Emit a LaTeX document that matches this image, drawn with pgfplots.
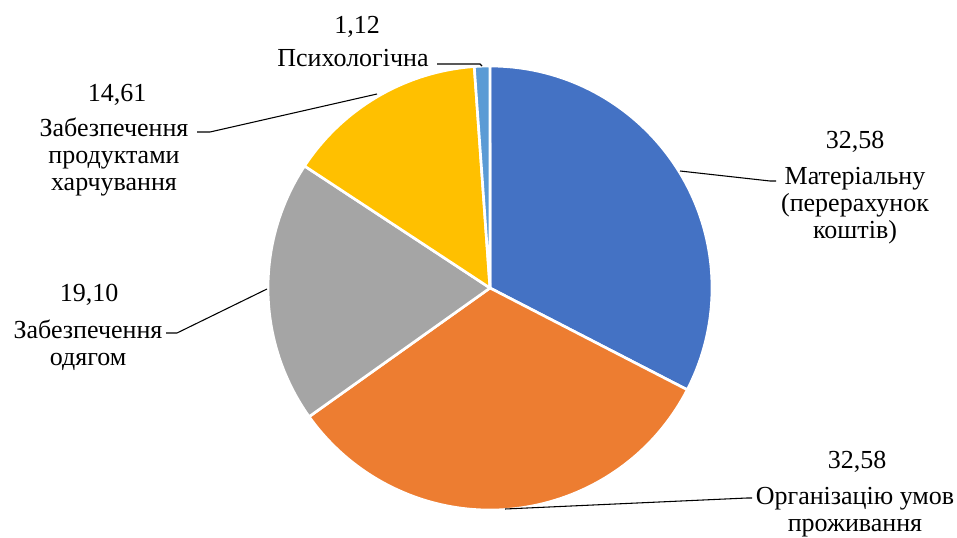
\documentclass[border=0pt]{standalone}
\usepackage{pgfplots}
\pgfplotsset{compat=1.18}
\usepackage{pgfplotstable}
\usepackage{fontspec}
\setmainfont{Liberation Serif}
\definecolor{c0}{HTML}{4472C4}
\definecolor{c1}{HTML}{ED7D31}
\definecolor{c2}{HTML}{A5A5A5}
\definecolor{c3}{HTML}{FFC000}
\definecolor{c4}{HTML}{5B9BD5}
\pgfplotstableread{
val
32.58
32.58
19.10
14.61
1.12
}\piedata
\xdef\cum{90}
\foreach \i in {0,...,4}{%
  \pgfplotstablegetelem{\i}{val}\of\piedata
  \pgfmathsetmacro\st{\cum}%
  \pgfmathsetmacro\en{\cum-3.6*\pgfplotsretval}%
  \expandafter\xdef\csname sa\i\endcsname{\st}%
  \expandafter\xdef\csname ea\i\endcsname{\en}%
  \xdef\cum{\en}%
}
\begin{document}
\begin{tikzpicture}
\begin{axis}[name=ax, scale only axis, width=717.75pt, height=402.75pt,
  xmin=0, xmax=957, ymin=0, ymax=537, hide axis, clip=false]
\pgfplotsinvokeforeach{0,...,4}{
  \fill[c#1, draw=white, line width=2pt, line join=round]
    (axis cs:490,249) -- ++(\csname sa#1\endcsname:166.5pt)
    arc[start angle=\csname sa#1\endcsname, end angle=\csname ea#1\endcsname, radius=166.5pt] -- cycle;
}
\draw[line width=0.8pt] (axis cs:680,366) -- (axis cs:770,356) -- (axis cs:776,356);
\draw[line width=0.8pt] (axis cs:505,28) -- (axis cs:747,39) -- (axis cs:752,39);
\draw[line width=0.8pt] (axis cs:267,248) -- (axis cs:177,204) -- (axis cs:166,204);
\draw[line width=0.8pt] (axis cs:377,443) -- (axis cs:210,405) -- (axis cs:197,405);
\draw[line width=0.8pt] (axis cs:437,473) -- (axis cs:480,473) -- (axis cs:482,471);
\begin{scope}[every node/.style={font=\fontsize{19.5}{20.3}\selectfont, inner sep=0pt, align=center}]
\node at (axis cs:855,395) {32,58};
\node at (axis cs:855,331) {Матеріальну\\(перерахунок\\коштів)};
\node at (axis cs:857,75) {32,58};
\node at (axis cs:855,25) {Організацію умов\\проживання};
\node at (axis cs:89,242) {19,10};
\node at (axis cs:88,192) {Забезпечення\\одягом};
\node at (axis cs:117,442) {14,61};
\node at (axis cs:114,380) {Забезпечення\\продуктами\\харчування};
\node at (axis cs:357,510) {1,12};
\node at (axis cs:353,479) {Психологічна};
\end{scope}
\end{axis}
\pgfresetboundingbox
\path (ax.south west) rectangle (ax.north east);
\end{tikzpicture}
\end{document}
